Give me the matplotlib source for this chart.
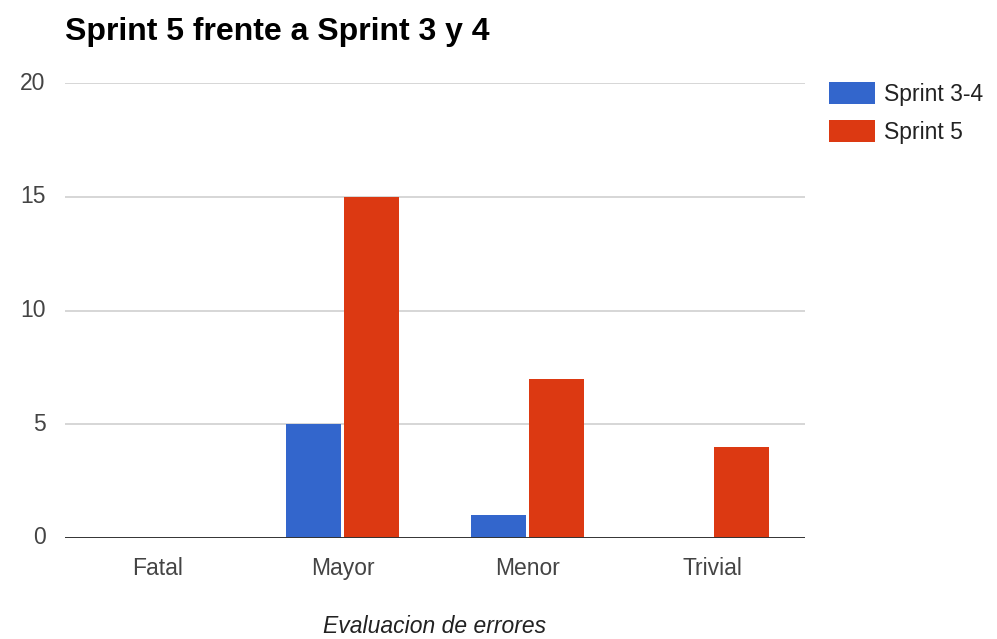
import matplotlib
matplotlib.use("Agg")
import matplotlib.pyplot as plt
import numpy as np

plt.rcParams['font.family'] = ['Liberation Sans', 'DejaVu Sans']

# datos
categorias = ['Fatal', 'Mayor', 'Menor', 'Trivial']
sprint_3_4 = [0, 5, 1, 0]
sprint_5 = [0, 15, 7, 4]
y_ticks = [0, 5, 10, 15, 20]

azul = '#3366cc'
rojo = '#dc3912'

fig = plt.figure(figsize=(9.97, 6.39), dpi=100)
ax = fig.add_axes([65 / 997, 101 / 639, 740 / 997, 455 / 639])

x = np.arange(len(categorias))
ancho = 0.297
ax.bar(x - 0.155, sprint_3_4, width=ancho, color=azul, label='Sprint 3-4', zorder=3)
ax.bar(x + 0.155, sprint_5, width=ancho, color=rojo, label='Sprint 5', zorder=3)

ax.set_xlim(-0.5, len(categorias) - 0.5)
ax.set_ylim(0, 20)
ax.set_yticks(y_ticks)
ax.set_xticks(x)
ax.set_xticklabels(categorias)

# rejilla
for v in y_ticks[1:]:
    ax.axhline(v, color='#cccccc', linewidth=1.1, zorder=1)
ax.axhline(0, color='#333333', linewidth=1.4, zorder=4)

for s in ax.spines.values():
    s.set_visible(False)
ax.tick_params(axis='both', length=0, labelsize=16.5, colors='#444444')
ax.tick_params(axis='x', pad=14)
ax.tick_params(axis='y', pad=14)
for lbl in ax.get_yticklabels():
    lbl.set_verticalalignment('center')

ax.set_xlabel('Evaluacion de errores', fontsize=16.5, style='italic',
              color='#222222', labelpad=25)

fig.text(65 / 997, 1 - 32 / 639, 'Sprint 5 frente a Sprint 3 y 4',
         fontsize=23, fontweight='bold', color='#000000', va='center', ha='left')

leg = ax.legend(loc='upper left', bbox_to_anchor=(829 / 997, 1 - 82 / 639),
                bbox_transform=fig.transFigure, frameon=False, fontsize=16.5,
                handlelength=2.0, handleheight=1.1, handletextpad=0.4,
                labelspacing=0.62, borderpad=0, borderaxespad=0)
for t in leg.get_texts():
    t.set_color('#222222')

fig.savefig('out.png', dpi=100)
